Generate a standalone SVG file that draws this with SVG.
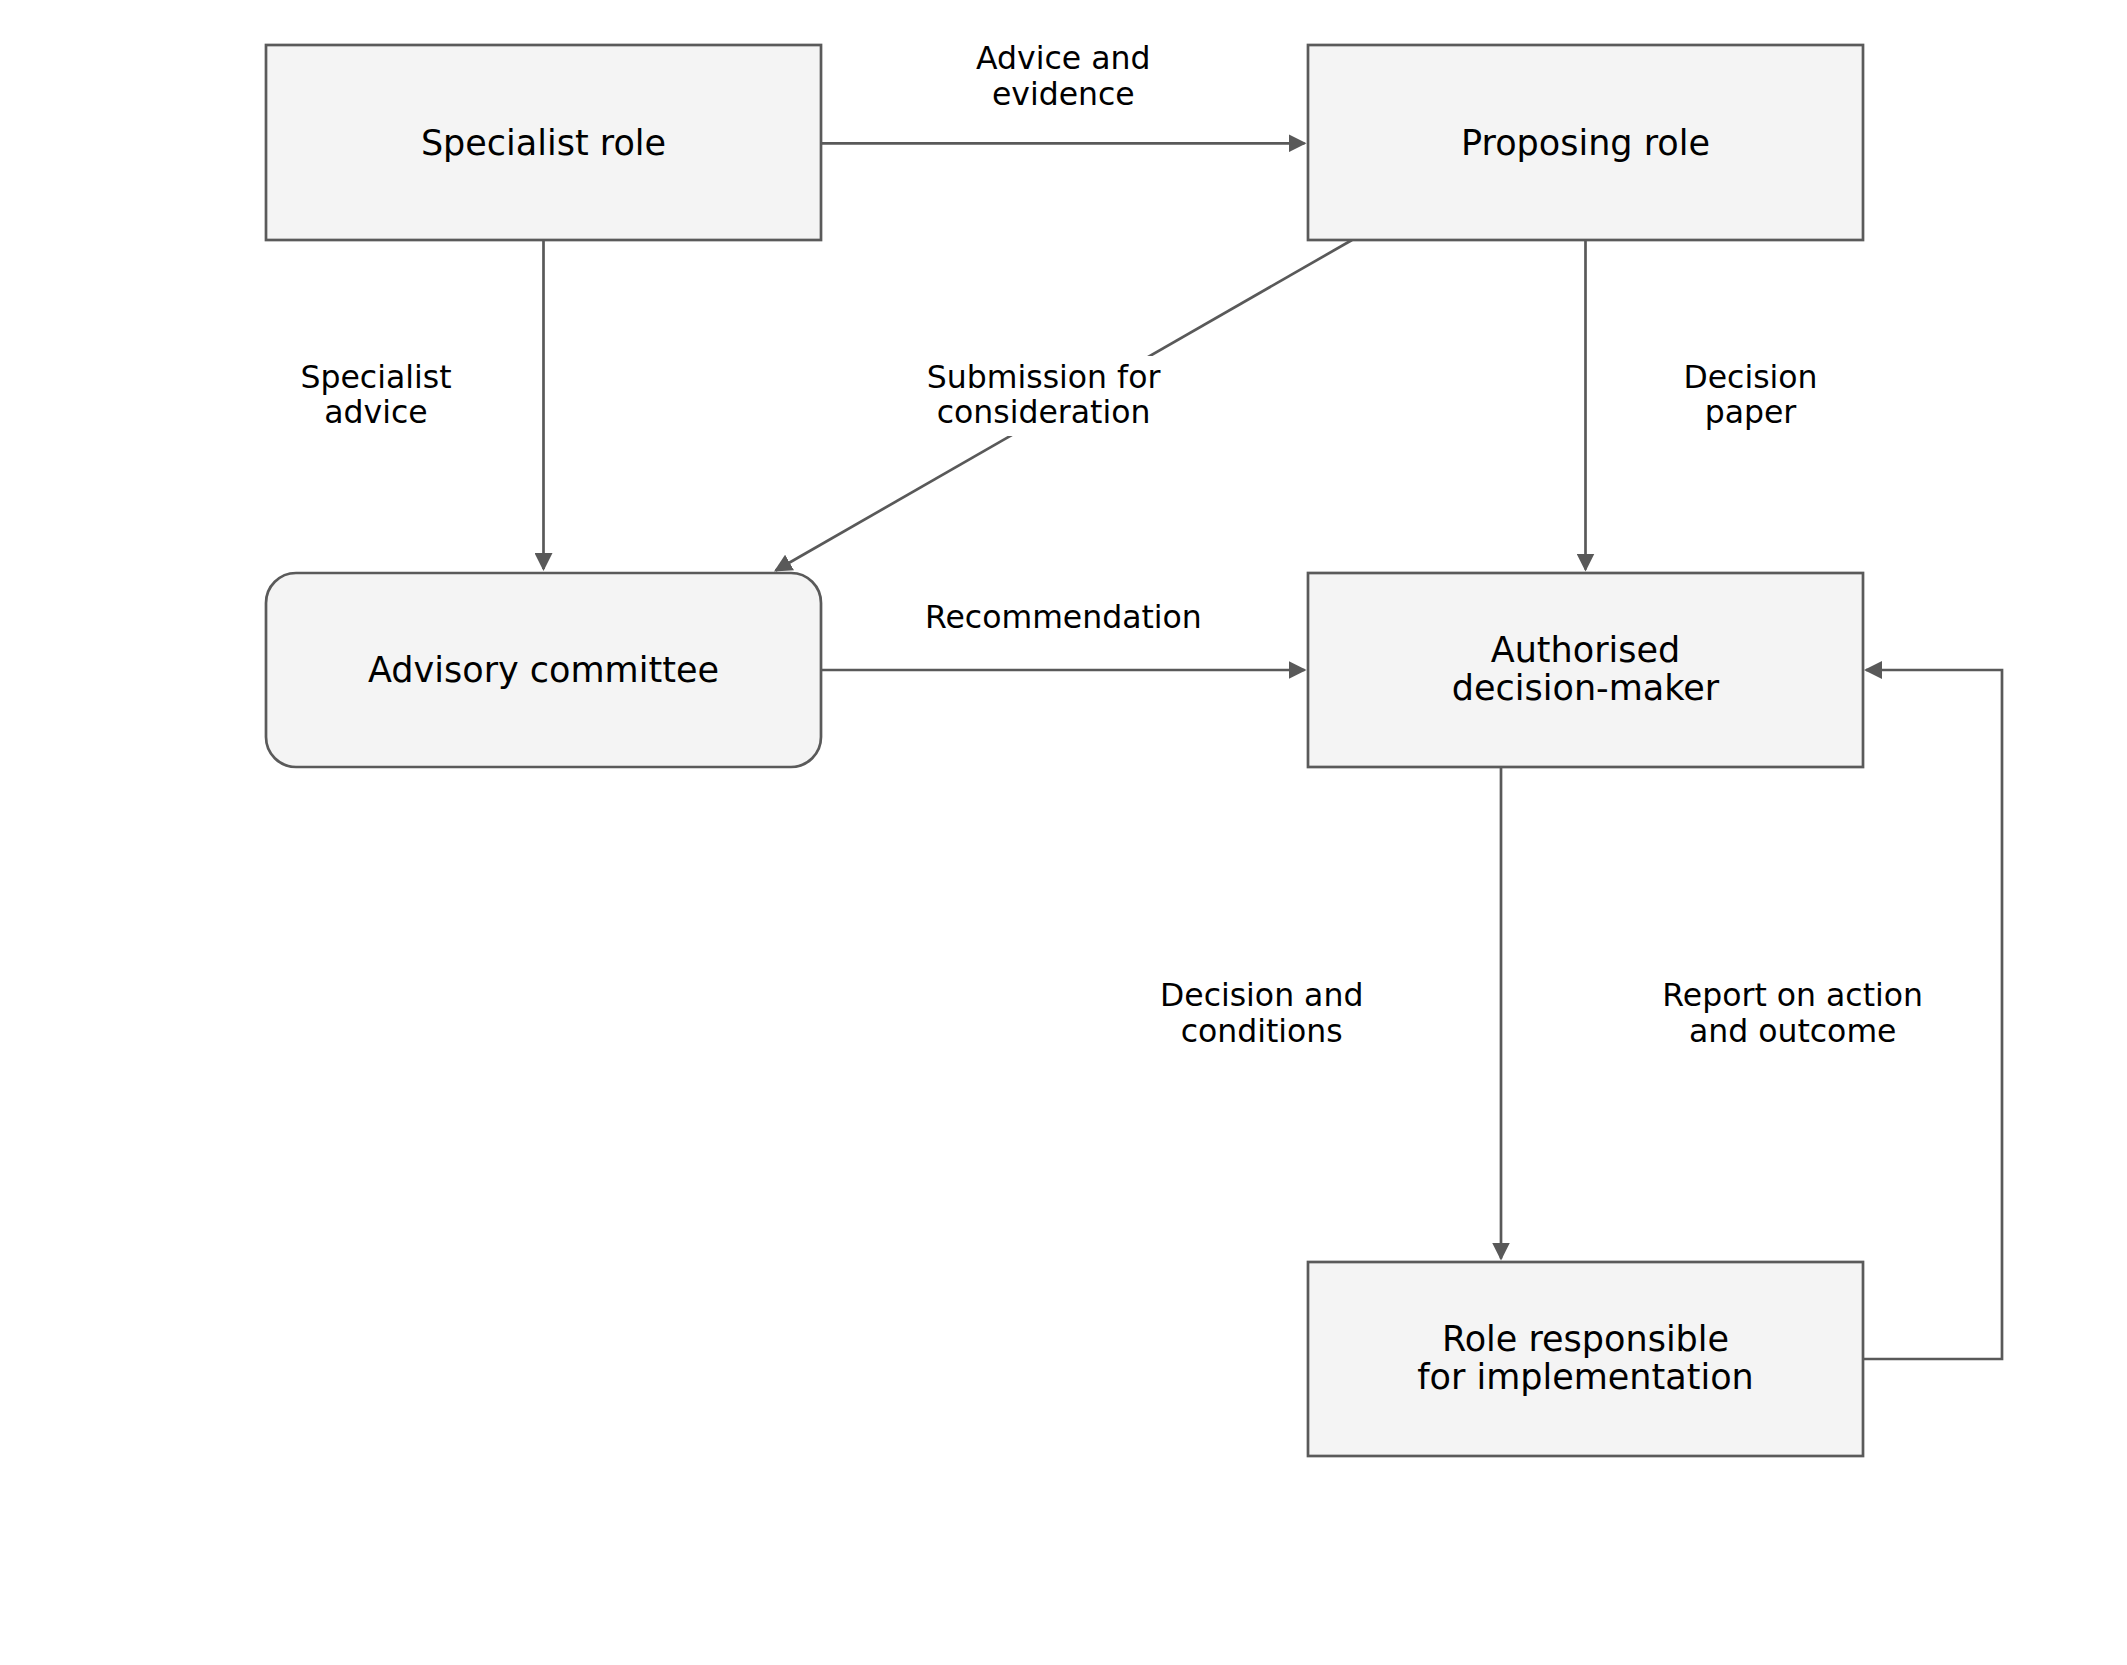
<svg xmlns="http://www.w3.org/2000/svg" width="2127" height="1665" viewBox="0 0 2127 1665">
<style>
.node{fill:#f4f4f4;stroke:#5a5a5a;stroke-width:2.7}
.nt{font-family:"DejaVu Sans",sans-serif;font-size:35px;fill:#000;text-anchor:middle}
.lt{font-family:"DejaVu Sans",sans-serif;font-size:31.5px;fill:#000;text-anchor:middle}
.edge{fill:none;stroke:#595959;stroke-width:2.7}
</style>
<defs>
<marker id="ah" markerUnits="userSpaceOnUse" markerWidth="18" markerHeight="18" refX="16" refY="9" orient="auto" viewBox="0 0 18 18">
<path d="M0,0 L18,9 L0,18 z" fill="#595959"/>
</marker>
</defs>
<rect width="2127" height="1665" fill="#ffffff"/>
<g id="connectors">
<path class="edge" d="M821,143.3 L1304.5,143.3" marker-end="url(#ah)"/>
<path class="edge" d="M543.5,240 L543.5,569" marker-end="url(#ah)"/>
<path class="edge" d="M1352,240 L775.7,570.5" marker-end="url(#ah)"/>
<path class="edge" d="M1585.5,240 L1585.5,569.5" marker-end="url(#ah)"/>
<path class="edge" d="M821,670 L1304.5,670" marker-end="url(#ah)"/>
<path class="edge" d="M1501,767 L1501,1258.5" marker-end="url(#ah)"/>
<path class="edge" d="M1863,1359 L2002,1359 L2002,670 L1866,670" marker-end="url(#ah)"/>
<g id="edge-labels">
<text class="lt" x="1063.3" y="69">Advice and</text>
<text class="lt" x="1063.3" y="104.5">evidence</text>
<text class="lt" x="376" y="387.7">Specialist</text>
<text class="lt" x="376" y="422.7">advice</text>
<rect x="918" y="356" width="252" height="80" fill="#ffffff"/>
<text class="lt" x="1043.6" y="387.6">Submission for</text>
<text class="lt" x="1043.6" y="422.8">consideration</text>
<text class="lt" x="1750.5" y="388">Decision</text>
<text class="lt" x="1750.5" y="422.5">paper</text>
<text class="lt" x="1063.4" y="627.6">Recommendation</text>
<text class="lt" x="1261.7" y="1006">Decision and</text>
<text class="lt" x="1261.7" y="1041.5">conditions</text>
<text class="lt" x="1792.7" y="1006">Report on action</text>
<text class="lt" x="1792.7" y="1041.5">and outcome</text>
</g>
</g>
<g id="specialist-role">
<rect class="node" x="266" y="45" width="555" height="195"/>
<text class="nt" x="543.5" y="154.5">Specialist role</text>
</g>
<g id="proposing-role">
<rect class="node" x="1308" y="45" width="555" height="195"/>
<text class="nt" x="1585.5" y="154.5">Proposing role</text>
</g>
<g id="advisory-committee">
<rect class="node" x="266" y="573" width="555" height="194" rx="30" ry="30"/>
<text class="nt" x="543.5" y="682">Advisory committee</text>
</g>
<g id="authorised-decision-maker">
<rect class="node" x="1308" y="573" width="555" height="194"/>
<text class="nt" x="1585.5" y="661.5">Authorised</text>
<text class="nt" x="1585.5" y="699.5">decision-maker</text>
</g>
<g id="role-responsible">
<rect class="node" x="1308" y="1262" width="555" height="194"/>
<text class="nt" x="1585.5" y="1350.5">Role responsible</text>
<text class="nt" x="1585.5" y="1389">for implementation</text>
</g>
</svg>
